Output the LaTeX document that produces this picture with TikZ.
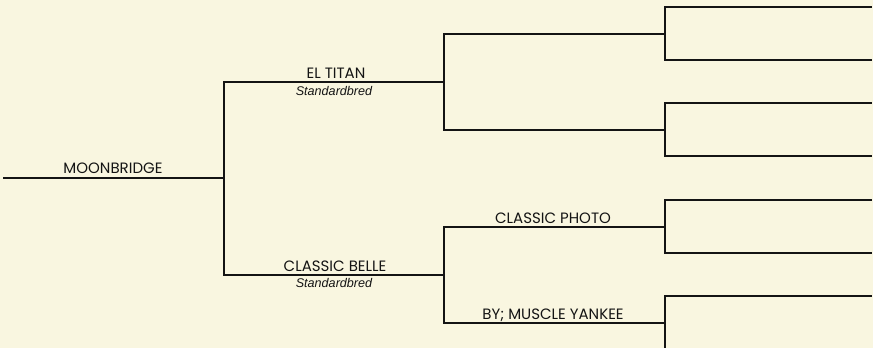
\documentclass[tikz,border=0pt]{standalone}
\usepackage{fontspec}
\setmainfont{Poppins}
\newfontfamily\breedfont{Liberation Sans}
\usepackage{tikz}
\usepackage{xcolor}
\definecolor{paper}{RGB}{249,246,224}
\definecolor{ink}{RGB}{20,20,20}

\begin{document}
\begin{tikzpicture}[x=1pt,y=-1pt,line width=1.4pt,line cap=rect,
  horse/.style={anchor=base,inner sep=0pt,font=\fontsize{15}{17}\selectfont,text=ink},
  breed/.style={anchor=base,inner sep=0pt,font=\breedfont\itshape\fontsize{12.6}{14}\selectfont,text=ink}]
\fill[paper] (0,0) rectangle (873,348);
\useasboundingbox (0,0) rectangle (873,348);
\begin{scope}
\clip (0,0) rectangle (873,348);
% end points of the lines
\coordinate (foal0) at (4,178);   \coordinate (foal1) at (224,178);
\coordinate (sire0) at (224,82);  \coordinate (sire1) at (444,82);
\coordinate (dam0) at (224,275);  \coordinate (dam1) at (444,275);
\coordinate (ss0) at (444,34);    \coordinate (ss1) at (665,34);
\coordinate (sd0) at (444,130);   \coordinate (sd1) at (665,130);
\coordinate (ds0) at (444,227);   \coordinate (ds1) at (665,227);
\coordinate (dd0) at (444,323);   \coordinate (dd1) at (665,323);
\draw[ink] (foal0) -- (foal1);
\draw[ink] (sire1) -- (sire0) -- (dam0) -- (dam1);
\draw[ink] (ss1) -- (ss0) -- (sd0) -- (sd1);
\draw[ink] (ds1) -- (ds0) -- (dd0) -- (dd1);
% outer generation
\foreach \y in {7,103,200,296}
  \draw[ink] (871,\y) -- (665,\y) -- (665,\y+53) -- (871,\y+53);
\end{scope}
\node[horse] (foal) at (113,173) {MOONBRIDGE};
\node[horse] (sire) at (336,78) {EL TITAN};
\node[breed] (sirebreed) at (334,95) {Standardbred};
\node[horse] (dam) at (335,271) {CLASSIC BELLE};
\node[breed] (dambreed) at (334,287) {Standardbred};
\node[horse] (damsire) at (553,223) {CLASSIC PHOTO};
\node[horse] (damdam) at (553,319) {BY; MUSCLE YANKEE};
\end{tikzpicture}
\end{document}
